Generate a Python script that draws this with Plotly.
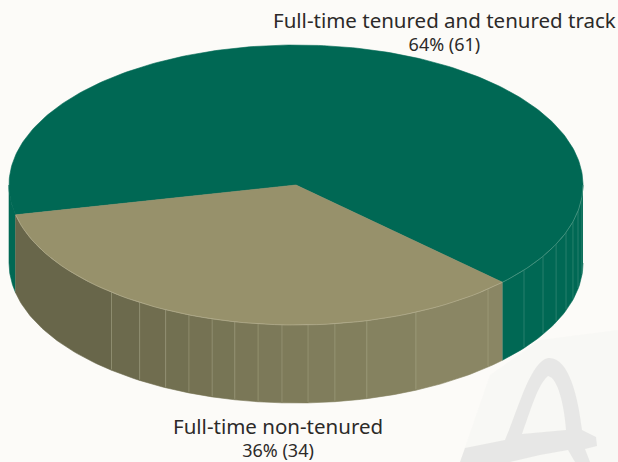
import numpy as np
import plotly.graph_objects as go

# Data
categories = ["Full-time tenured and tenured track", "Full-time non-tenured"]
counts = [61, 34]
percents = [64, 36]

# Look
GREEN, TAN = "#006854", "#97916b"
CX, CY, RX, RY, DEPTH = 296, 185, 287, 140, 78
START_DEG = 44          # where the tan slice begins (clockwise on screen)
SWEEP_FIX = 0.96        # foreshortening of the tan slice in the drawing
tan_facets = [65.3, 75.7, 82.2, 87.6, 92.8, 97.6, 102.3, 107, 111.9, 117, 123, 130]
green_facets = [5, 10.7, 15.2, 19.8, 25, 30.6, 37.4]
shade_t = [45, 90, 130, 168]
shade_r = [0x8e, 0x7f, 0x6b, 0x65]
shade_g = [0x8a, 0x7c, 0x69, 0x63]
shade_b = [0x67, 0x5b, 0x4c, 0x49]

tan_sweep = 360 * counts[1] / sum(counts) * SWEEP_FIX
a0, a1 = START_DEG, START_DEG + tan_sweep


def top(t):
    t = np.radians(t)
    return CX + RX * np.cos(t), CY + RY * np.sin(t)


def poly(xs, ys, color):
    return go.Scatter(x=list(xs), y=list(ys), mode="lines", fill="toself", fillcolor=color,
                      line=dict(width=0.6, color=color), hoverinfo="skip", showlegend=False)


def side(t0, t1, color):
    t = np.linspace(t0, t1, 40)
    x, y = top(t)
    return poly(np.r_[x, x[::-1]], np.r_[y, y[::-1] + DEPTH], color)


def edge(t0, t1, color, w=0.8):
    t = np.linspace(t0, t1, 60)
    x, y = top(t)
    return go.Scatter(x=x, y=y, mode="lines", line=dict(width=w, color=color),
                      hoverinfo="skip", showlegend=False)


def sep(t, color):
    x, y = top(t)
    return go.Scatter(x=[x, x], y=[y, y + DEPTH - 1], mode="lines", line=dict(width=0.8, color=color),
                      hoverinfo="skip", showlegend=False)


traces = []
# green side
traces.append(side(0, a0, GREEN))
traces.append(side(a1, 180, GREEN))
# tan side, facet by facet
bounds = [a0] + tan_facets + [a1]
for t0, t1 in zip(bounds[:-1], bounds[1:]):
    m = (t0 + t1) / 2
    col = "rgb(%d,%d,%d)" % (np.interp(m, shade_t, shade_r), np.interp(m, shade_t, shade_g), np.interp(m, shade_t, shade_b))
    traces.append(side(t0, t1, col))
for t in [48.0] + tan_facets:
    traces.append(sep(t, "rgba(190,188,155,0.4)"))
for t in green_facets:
    traces.append(sep(t, "rgba(110,170,150,0.45)"))

# top face
t = np.linspace(a1, a0 + 360, 240)
x, y = top(t)
traces.append(poly(np.r_[CX, x, CX], np.r_[CY, y, CY], GREEN))
t = np.linspace(a0, a1, 120)
x, y = top(t)
traces.append(poly(np.r_[CX, x, CX], np.r_[CY, y, CY], TAN))
traces.append(edge(0, a0, "rgba(120,180,160,0.7)", 0.7))
traces.append(edge(a0, a1, "rgba(200,196,165,0.6)", 0.7))

fig = go.Figure(traces)

# pale watermark behind the chart
mark = "rgba(226,226,224,0.75)"
shapes = [
    dict(type="path", layer="below", line=dict(width=0), fillcolor="rgba(247,246,243,0.7)",
         path="M 460 462 L 490 375 L 540 340 L 618 330 L 618 462 Z"),
    dict(type="path", layer="below", line=dict(width=0), fillcolor=mark,
         path="M 505 440 C 518 410 530 362 548 358 C 568 356 578 395 582 430 L 596 437 L 597 446 "
              "L 585 449 L 590 462 L 575 462 L 568 450 L 540 455 L 510 462 L 460 462 L 465 448 L 505 440 Z"
              " M 522 434 L 566 430 C 564 405 558 378 548 376 C 538 384 530 412 522 434 Z"),
]

INK = "#2c2a29"
FONT = "Noto Sans"


def label(i):
    return (f"<span style='font-size:20.5px'>{categories[i]}</span><br>"
            f"{percents[i]}% ({counts[i]})")


anns = [
    dict(x=444, y=31, text=label(0)),
    dict(x=278, y=436.5, text=label(1)),
]
for a in anns:
    a.update(xref="x", yref="y", showarrow=False, xanchor="center", yanchor="middle",
             align="center", font=dict(size=18, color=INK, family=FONT))

fig.update_layout(
    width=618, height=462, margin=dict(l=0, r=0, t=0, b=0),
    paper_bgcolor="#fcfbf8", plot_bgcolor="rgba(0,0,0,0)",
    xaxis=dict(range=[0, 618], visible=False, fixedrange=True),
    yaxis=dict(range=[462, 0], visible=False, fixedrange=True),
    shapes=shapes, annotations=anns, showlegend=False,
)
fig.write_html("out.html", config=dict(displayModeBar=False),
               post_script="document.body.style.margin='0';document.body.style.overflow='hidden';document.documentElement.style.overflow='hidden';")
